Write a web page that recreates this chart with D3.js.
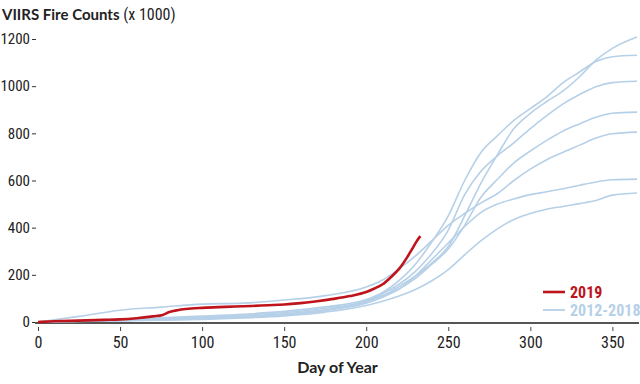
<!DOCTYPE html>
<html>
<head>
<meta charset="utf-8">
<script src="https://cdn.jsdelivr.net/npm/d3@7"></script>
<style>
  body { margin: 0; background: #fff; }
  svg { display: block; }
</style>
</head>
<body>
<div id="chart"></div>
<script>
// day-of-year / cumulative counts (x 1000)
const days2019 = [0, 10, 20, 30, 40, 50, 60, 70, 76, 80, 85, 90, 100, 110, 120, 130, 140, 150, 160, 170, 180, 190, 200, 205, 210, 215, 220, 225, 228, 231, 233]
const counts2019 = [0, 3, 5, 7, 9, 11, 16, 24, 30, 42, 50, 55, 60, 63, 66, 68, 71, 74, 80, 88, 98, 110, 127, 142, 160, 190, 225, 275, 310, 345, 364]

const pastDays = [0, 25, 50, 75, 100, 125, 150, 175, 200, 210, 220, 230, 240, 250, 260, 270, 280, 290, 300, 310, 320, 330, 340, 350, 365]
const past2012 = [0, 4, 8, 12, 18, 25, 35, 52, 85, 110, 150, 195, 250, 320, 450, 590, 710, 820, 885, 935, 980, 1040, 1110, 1160, 1208]
const past2013 = [0, 6, 12, 18, 25, 33, 45, 64, 95, 125, 175, 245, 340, 450, 600, 720, 790, 855, 905, 955, 1015, 1060, 1105, 1125, 1131]
const past2014 = [0, 5, 10, 15, 22, 30, 40, 58, 90, 120, 160, 215, 290, 390, 540, 640, 705, 760, 820, 875, 925, 965, 998, 1015, 1021]
const past2015 = [0, 3, 6, 10, 15, 22, 32, 50, 80, 105, 140, 185, 245, 310, 410, 530, 605, 675, 725, 770, 810, 840, 868, 885, 890]
const past2016 = [0, 24, 50, 63, 76, 80, 93, 112, 148, 178, 225, 280, 345, 410, 460, 505, 545, 600, 648, 688, 720, 750, 780, 798, 805]
const past2017 = [0, 3, 6, 9, 13, 20, 30, 48, 88, 112, 140, 195, 265, 335, 405, 465, 500, 522, 540, 552, 565, 580, 594, 603, 606]
const past2018 = [0, 2, 5, 8, 11, 17, 26, 42, 70, 88, 110, 138, 175, 222, 285, 345, 395, 435, 460, 478, 490, 502, 515, 538, 547]
const pastSeries = [past2012, past2013, past2014, past2015, past2016, past2017, past2018]

const xTicks = [0, 50, 100, 150, 200, 250, 300, 350]
const yTicks = [0, 200, 400, 600, 800, 1000, 1200]
const legendLabels = ['2019', '2012-2018']

const width = 640
const height = 384
const margin = { top: 39, right: 3, bottom: 62, left: 38 }

const red = '#c0141c'
const blue = '#b6d0e8'
const tickFont = '"Liberation Sans Narrow", "Roboto Condensed", "Liberation Sans", sans-serif'
const boldFont = 'Lato, "Open Sans", sans-serif'

const svg = d3
  .select('#chart')
  .append('svg')
  .attr('width', width)
  .attr('height', height)

const x = d3.scaleLinear().domain([0, 365]).range([margin.left, width - margin.right])
const y = d3.scaleLinear().domain([0, 1200]).range([height - margin.bottom, margin.top])

// title
const title = svg.append('text')
  .attr('x', 2)
  .attr('y', 20)
  .attr('font-family', boldFont)
  .attr('font-size', 15)
  .attr('fill', '#222')
title.append('tspan').attr('font-weight', 'bold').text('VIIRS Fire Counts ')
title.append('tspan').attr('font-family', tickFont).attr('font-size', 16).text('(x 1000)')

// y axis: labels with small dash ticks, no domain line
const yAxis = svg.append('g')
  .attr('transform', `translate(${margin.left - 2},0)`)
  .call(d3.axisLeft(y).tickValues(yTicks).tickSize(4).tickPadding(2).tickFormat(d3.format('d')))
yAxis.select('.domain').remove()
yAxis.selectAll('line').attr('stroke', '#333')
yAxis.selectAll('text')
  .attr('font-family', tickFont)
  .attr('font-size', 15)
  .attr('fill', '#222')

// x axis
const xAxis = svg.append('g')
  .attr('transform', `translate(0,${height - margin.bottom + 1})`)
  .call(d3.axisBottom(x).tickValues(xTicks).tickSize(0).tickPadding(14))
xAxis.select('.domain').remove()
xAxis.selectAll('text')
  .attr('font-family', tickFont)
  .attr('font-size', 16)
  .attr('fill', '#222')
xAxis.selectAll('.tick').append('line')
  .attr('y1', 4)
  .attr('y2', 8)
  .attr('stroke', '#444')

svg.append('line')
  .attr('x1', margin.left - 3)
  .attr('x2', width - 1)
  .attr('y1', y(0) + 1)
  .attr('y2', y(0) + 1)
  .attr('stroke', '#555')
  .attr('stroke-width', 2)

svg.append('text')
  .attr('x', (x(0) + x(365)) / 2)
  .attr('y', 373)
  .attr('text-anchor', 'middle')
  .attr('font-family', boldFont)
  .attr('font-weight', 'bold')
  .attr('font-size', 16)
  .attr('fill', '#222')
  .text('Day of Year')

// lines
const line = d3.line()
  .x(d => x(d[0]))
  .y(d => y(d[1]))
  .curve(d3.curveMonotoneX)

svg.append('g')
  .selectAll('path')
  .data(pastSeries)
  .join('path')
  .attr('d', s => line(s.map((v, i) => [pastDays[i], v])))
  .attr('fill', 'none')
  .attr('stroke', blue)
  .attr('stroke-width', 1.6)

svg.append('path')
  .attr('d', line(counts2019.map((v, i) => [days2019[i], v])))
  .attr('fill', 'none')
  .attr('stroke', red)
  .attr('stroke-width', 2.6)

// legend
const legend = svg.append('g').attr('transform', 'translate(543,292)')
const legendColors = [red, blue]
legendLabels.forEach((label, i) => {
  legend.append('line')
    .attr('x1', 0)
    .attr('x2', 22)
    .attr('y1', i * 18)
    .attr('y2', i * 18)
    .attr('stroke', legendColors[i])
    .attr('stroke-width', i === 0 ? 2.6 : 1.8)
  legend.append('text')
    .attr('x', 27)
    .attr('y', i * 18 + 6)
    .attr('font-family', tickFont)
    .attr('font-weight', 'bold')
    .attr('font-size', 16)
    .attr('fill', legendColors[i])
    .text(label)
})
</script>
</body>
</html>
